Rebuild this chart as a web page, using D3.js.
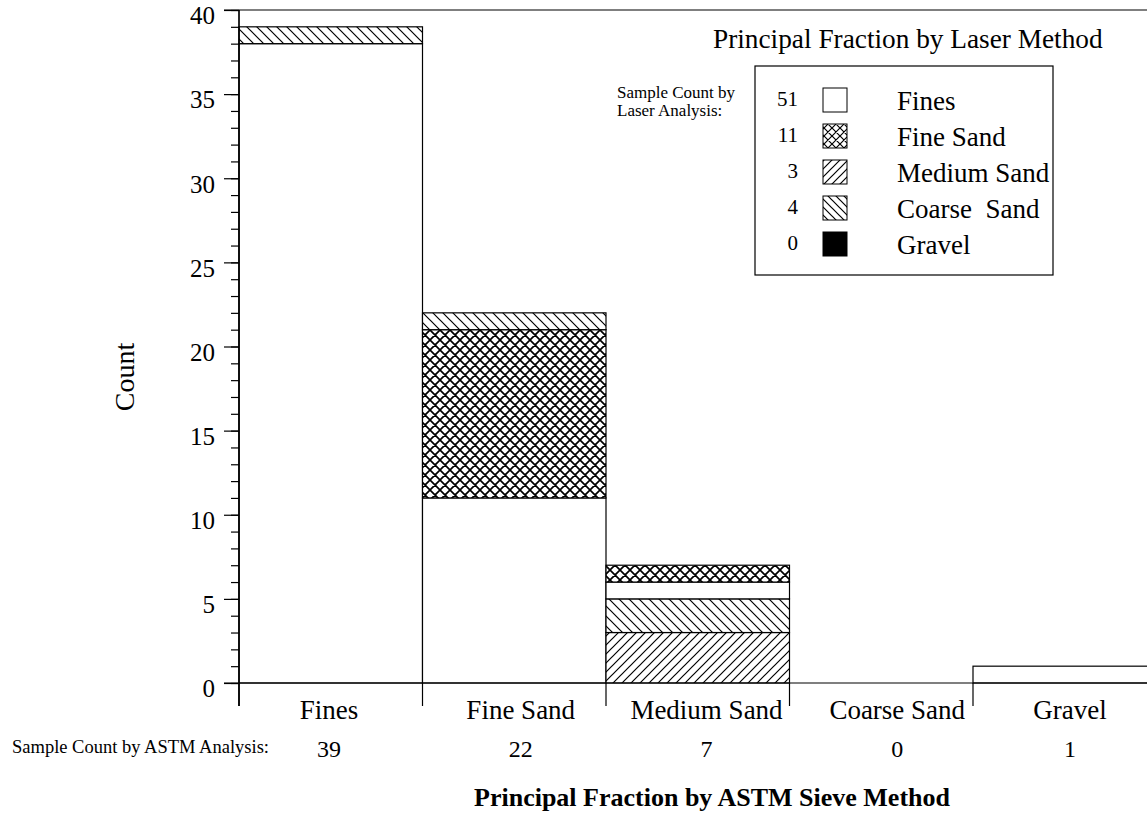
<!DOCTYPE html>
<html><head><meta charset="utf-8">
<script src="https://cdn.jsdelivr.net/npm/d3@7/dist/d3.min.js"></script>
<style>
html,body{margin:0;padding:0;background:#fff;}
svg{display:block;font-family:"Liberation Serif","Times New Roman",serif;}
text{white-space:pre;}
</style></head>
<body><svg id="chart" width="1147" height="813"></svg>
<script>
// ---- data ----
const categories = ["Fines", "Fine Sand", "Medium Sand", "Coarse Sand", "Gravel"];
const laserClasses = ["Fines", "Fine Sand", "Medium Sand", "Coarse  Sand", "Gravel"];
const astmCounts = [39, 22, 7, 0, 1];
const laserCounts = [51, 11, 3, 4, 0];
// count of samples of each laser class within each ASTM category
const finesSeries = [38, 11, 1, 0, 1];
const fineSandSeries = [0, 10, 1, 0, 0];
const mediumSandSeries = [0, 0, 3, 0, 0];
const coarseSandSeries = [1, 1, 2, 0, 0];
const gravelSeries = [0, 0, 0, 0, 0];
// stacking order (bottom to top) of laser classes in each ASTM category
const stackOrders = [[0, 3], [0, 1, 3], [2, 3, 0, 1], [], [0]];
const yTicksMajor = [0, 5, 10, 15, 20, 25, 30, 35, 40];

// layout nudges for the text rows (pixels)
const labelNudge = [-2, 5, 6, 12, 0];

const series = [finesSeries, fineSandSeries, mediumSandSeries, coarseSandSeries, gravelSeries];

const svg = d3.select("#chart");
const defs = svg.append("defs");

function pat(id, w, d, sw) {
  const p = defs.append("pattern").attr("id", id).attr("patternUnits", "userSpaceOnUse")
    .attr("width", w).attr("height", w);
  p.append("rect").attr("width", w).attr("height", w).attr("fill", "#fff");
  p.append("path").attr("d", d).attr("stroke", "#000").attr("stroke-width", sw).attr("fill", "none");
}
pat("pCross", 10, "M0,0L10,10M10,0L0,10M-1,1L1,-1M9,11L11,9M-1,9L1,11M9,-1L11,1", 1.7);
pat("pMed", 9, "M0,9L9,0M-1,1L1,-1M8,10L10,8", 1.2);
pat("pCoarse", 10, "M0,0L10,10M-1,9L1,11M9,-1L11,1", 1.2);
pat("pCrossL", 8, "M0,0L8,8M8,0L0,8M-1,1L1,-1M7,9L9,7M-1,7L1,9M7,-1L9,1", 1.2);
pat("pMedL", 8, "M0,8L8,0M-1,1L1,-1M7,9L9,7", 1.2);
pat("pCoarseL", 8, "M0,0L8,8M-1,7L1,9M7,-1L9,1", 1.2);
const fills = ["#fff", "url(#pCross)", "url(#pMed)", "url(#pCoarse)", "#000"];
const legendFills = ["#fff", "url(#pCrossL)", "url(#pMedL)", "url(#pCoarseL)", "#000"];

const y = d3.scaleLinear().domain([0, 40]).range([683, 10]);
const x = d3.scaleBand().domain(categories).range([239, 239 + 5 * 183.5]).padding(0);
const xl = d3.scalePoint().domain(categories).range([331, 1070]);

const axisX = 239;
svg.append("line").attr("x1", 224).attr("x2", 1147).attr("y1", y(40)).attr("y2", y(40)).attr("stroke", "#000").attr("stroke-width", 1.2);

// bars
categories.forEach((c, ci) => {
  let base = 0;
  stackOrders[ci].forEach(k => {
    const v = series[k][ci];
    if (!v) return;
    svg.append("rect")
      .attr("x", x(c)).attr("width", x.bandwidth())
      .attr("y", y(base + v)).attr("height", y(base) - y(base + v))
      .attr("fill", fills[k]).attr("stroke", "#000").attr("stroke-width", 1.2);
    base += v;
  });
});

svg.append("line").attr("x1", 224).attr("x2", 1147).attr("y1", y(0)).attr("y2", y(0)).attr("stroke", "#000").attr("stroke-width", 1.2);
categories.forEach(c => {
  svg.append("line").attr("x1", x(c)).attr("x2", x(c)).attr("y1", y(0)).attr("y2", 706).attr("stroke", "#000").attr("stroke-width", 1.2);
});

// y axis
const yAxisMinor = d3.axisLeft(y).tickValues(d3.range(0, 41, 1)).tickSize(8).tickFormat("");
const gMinor = svg.append("g").attr("transform", `translate(${axisX},0)`).call(yAxisMinor);
const yAxis = d3.axisLeft(y).tickValues(yTicksMajor).tickSize(15).tickPadding(9);
const gY = svg.append("g").attr("transform", `translate(${axisX},0)`).call(yAxis);
[gMinor, gY].forEach(g => {
  g.attr("font-family", null);
  g.select(".domain").attr("d", `M0,${y(40)}V706`).attr("stroke", "#000").attr("stroke-width", 1.2);
  g.selectAll(".tick line").attr("stroke", "#000").attr("stroke-width", 1.2);
});
gY.selectAll(".tick text").attr("font-size", 25).attr("fill", "#000").attr("dy", "0.55em");

svg.append("text").attr("transform", `translate(134,377) rotate(-90)`).attr("text-anchor", "middle")
  .attr("font-size", 28).text("Count");

// category labels
svg.selectAll(".cat").data(categories).enter().append("text")
  .attr("x", (d, i) => xl(d) + labelNudge[i]).attr("y", 719).attr("text-anchor", "middle").attr("font-size", 27).text(d => d);
svg.append("text").attr("x", 12).attr("y", 753).attr("font-size", 18.5).text("Sample Count by ASTM Analysis:");
svg.selectAll(".cnt").data(astmCounts).enter().append("text")
  .attr("x", (d, i) => xl(categories[i]) + labelNudge[i]).attr("y", 757).attr("text-anchor", "middle").attr("font-size", 24).text(d => d);
svg.append("text").attr("x", 712).attr("y", 806).attr("text-anchor", "middle").attr("font-size", 26)
  .attr("font-weight", "bold").text("Principal Fraction by ASTM Sieve Method");

// legend
svg.append("text").attr("x", 713).attr("y", 48).attr("font-size", 27.3).text("Principal Fraction by Laser Method");
svg.append("rect").attr("x", 755).attr("y", 66).attr("width", 298).attr("height", 209)
  .attr("fill", "#fff").attr("stroke", "#000").attr("stroke-width", 1.2);
svg.append("text").attr("x", 617).attr("y", 98).attr("font-size", 17).text("Sample Count by");
svg.append("text").attr("x", 617).attr("y", 116).attr("font-size", 17).text("Laser Analysis:");
const ly = d3.scaleLinear().domain([0, 4]).range([88, 232]);
laserClasses.forEach((name, i) => {
  svg.append("text").attr("x", 798).attr("y", ly(i) + 18).attr("text-anchor", "end").attr("font-size", 21).text(laserCounts[i]);
  svg.append("rect").attr("x", 823).attr("y", ly(i)).attr("width", 24).attr("height", 24)
    .attr("fill", legendFills[i]).attr("stroke", "#000").attr("stroke-width", 1);
  svg.append("text").attr("x", 897).attr("y", ly(i) + 22).attr("font-size", 27).text(name);
});
</script></body></html>
